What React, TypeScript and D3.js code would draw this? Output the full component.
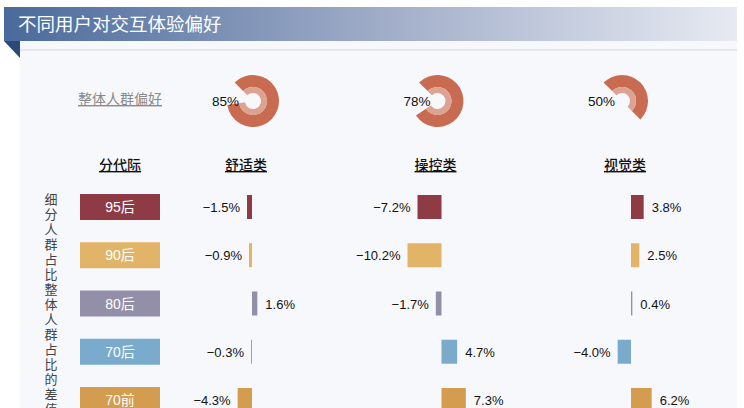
import React, { useEffect, useRef } from "react";
import * as d3 from "d3";

const generations = ["95后", "90后", "80后", "70后", "70前"];
const generationColors = ["#8e3b46", "#e2b467", "#948fa8", "#7aaacc", "#d39c4f"];
const categories = ["舒适类", "操控类", "视觉类"];
const overallShare = [85, 78, 50];
const comfortDiff = [-1.5, -0.9, 1.6, -0.3, -4.3];
const controlDiff = [-7.2, -10.2, -1.7, 4.7, 7.3];
const visualDiff = [3.8, 2.5, 0.4, -4.0, 6.2];
const sideLabel = "细分人群占比整体人群占比的差值";

const W = 744;
const H = 408;
const CJK = "'Noto Sans CJK SC', 'Noto Sans', sans-serif";
const LATIN = "'Liberation Sans', Arial, 'Noto Sans CJK SC', sans-serif";

const App: React.FC = () => {
  const ref = useRef<SVGSVGElement>(null);

  useEffect(() => {
    if (!ref.current) return;
    const svg = d3.select(ref.current);
    svg.selectAll("*").remove();

    const diffs = [comfortDiff, controlDiff, visualDiff];

    // banner + panel
    const defs = svg.append("defs");
    const grad = defs
      .append("linearGradient")
      .attr("id", "banner")
      .attr("x1", "0%")
      .attr("x2", "100%");
    grad.append("stop").attr("offset", "0%").attr("stop-color", "#4a6a9b");
    grad.append("stop").attr("offset", "50%").attr("stop-color", "#9eabc7");
    grad.append("stop").attr("offset", "100%").attr("stop-color", "#e7eaf2");

    svg.append("rect").attr("width", W).attr("height", H).attr("fill", "#ffffff");
    svg
      .append("rect")
      .attr("x", 20)
      .attr("y", 41)
      .attr("width", 717)
      .attr("height", H - 41)
      .attr("fill", "#f7f8fc");
    svg
      .append("rect")
      .attr("x", 4)
      .attr("y", 7)
      .attr("width", 733)
      .attr("height", 34)
      .attr("fill", "url(#banner)");
    svg
      .append("path")
      .attr("d", "M4,41 L20,41 L20,58 Z")
      .attr("fill", "#2b4a7b");
    svg
      .append("line")
      .attr("x1", 20)
      .attr("x2", 737)
      .attr("y1", 50)
      .attr("y2", 50)
      .attr("stroke", "#d3d7e1")
      .attr("stroke-width", 1);
    svg
      .append("text")
      .attr("x", 18)
      .attr("y", 31)
      .attr("fill", "#ffffff")
      .style("font-family", CJK)
      .style("font-size", "18.5px")
      .text("不同用户对交互体验偏好");

    // scales
    const col = d3.scalePoint<string>().domain(categories).range([246, 625]);
    const donutX = d3.scalePoint<string>().domain(categories).range([253, 622]);
    const row = d3.scalePoint<string>().domain(generations).range([207, 400]);
    const bar = d3.scaleLinear().domain([-12, 12]).range([-40, 40]);
    const angle = d3.scaleLinear().domain([0, 100]).range([0, 2 * Math.PI]);
    const start = -Math.PI / 4;

    // overall row
    svg
      .append("text")
      .attr("x", 120)
      .attr("y", 104)
      .attr("text-anchor", "middle")
      .attr("fill", "#8a8a8a")
      .attr("text-decoration", "underline")
      .style("font-family", CJK)
      .style("font-size", "14px")
      .text("整体人群偏好");

    const outerArc = d3.arc<number>()
      .innerRadius(14)
      .outerRadius(26)
      .startAngle(start)
      .endAngle((d) => start + angle(d));
    const innerArc = d3.arc<number>()
      .innerRadius(8)
      .outerRadius(14)
      .startAngle(start)
      .endAngle((d) => start + angle(d));

    const donut = svg
      .selectAll("g.donut")
      .data(overallShare)
      .enter()
      .append("g")
      .attr("class", "donut")
      .attr("transform", (d, i) => `translate(${donutX(categories[i]) || 0},101)`);
    donut.append("path").attr("d", (d) => outerArc(d) || "").attr("fill", "#c96b51");
    donut.append("path").attr("d", (d) => innerArc(d) || "").attr("fill", "#dda291");
    donut
      .append("text")
      .attr("x", (d, i) => (i === 0 ? -14 : -7))
      .attr("y", 5)
      .attr("text-anchor", "end")
      .attr("fill", "#111")
      .style("font-family", LATIN)
      .style("font-size", "13.5px")
      .text((d) => `${d}%`);

    // headers
    svg
      .append("text")
      .attr("x", 120)
      .attr("y", 170)
      .attr("text-anchor", "middle")
      .attr("fill", "#111")
      .attr("text-decoration", "underline")
      .style("font-family", CJK)
      .style("font-size", "14px")
      .style("font-weight", 500)
      .text("分代际");
    svg
      .selectAll("text.header")
      .data(categories)
      .enter()
      .append("text")
      .attr("class", "header")
      .attr("x", (d) => col(d) || 0)
      .attr("y", 170)
      .attr("text-anchor", "middle")
      .attr("fill", "#111")
      .attr("text-decoration", "underline")
      .style("font-family", CJK)
      .style("font-size", "14px")
      .style("font-weight", 500)
      .text((d) => d);

    // side label, one vertical text
    svg
      .append("text")
      .attr("x", 51)
      .attr("y", 193)
      .attr("fill", "#444")
      .style("writing-mode", "vertical-rl")
      .style("letter-spacing", "2px")
      .style("font-family", CJK)
      .style("font-size", "13px")
      .text(sideLabel);

    // generation boxes
    const gen = svg
      .selectAll("g.gen")
      .data(generations)
      .enter()
      .append("g")
      .attr("class", "gen")
      .attr("transform", (d) => `translate(0,${row(d)})`);
    gen
      .append("rect")
      .attr("x", 80)
      .attr("y", -13)
      .attr("width", 80)
      .attr("height", 26)
      .attr("fill", (d, i) => generationColors[i]);
    gen
      .append("text")
      .attr("x", 120)
      .attr("y", 5)
      .attr("text-anchor", "middle")
      .attr("fill", "#ffffff")
      .style("font-family", LATIN)
      .style("font-size", "14px")
      .text((d) => d);

    // diff bars
    const fmt = d3.format(".1f");
    categories.forEach((c, ci) => {
      const zero = (col(c) || 0) + 6;
      const g = svg.append("g").attr("transform", `translate(${zero},0)`);
      const values = diffs[ci].map((v, i) => ({ v, gen: generations[i], color: generationColors[i] }));
      g.selectAll("rect")
        .data(values)
        .enter()
        .append("rect")
        .attr("x", (d) => Math.min(bar(0), bar(d.v)))
        .attr("y", (d) => (row(d.gen) || 0) - 12)
        .attr("width", (d) => Math.max(1, Math.abs(bar(d.v) - bar(0))))
        .attr("height", 24)
        .attr("fill", (d) => d.color);
      g.selectAll("text")
        .data(values)
        .enter()
        .append("text")
        .attr("x", (d) => (d.v < 0 ? bar(d.v) - 7 : bar(d.v) + 8))
        .attr("y", (d) => (row(d.gen) || 0) + 5)
        .attr("text-anchor", (d) => (d.v < 0 ? "end" : "start"))
        .attr("fill", "#111")
        .style("font-family", LATIN)
        .style("font-size", "13px")
        .text((d) => `${fmt(d.v)}%`);
    });
  }, []);

  return (
    <svg
      ref={ref}
      width={W}
      height={H}
      style={{ position: "absolute", left: 0, top: 0, display: "block" }}
    />
  );
};

export default App;
